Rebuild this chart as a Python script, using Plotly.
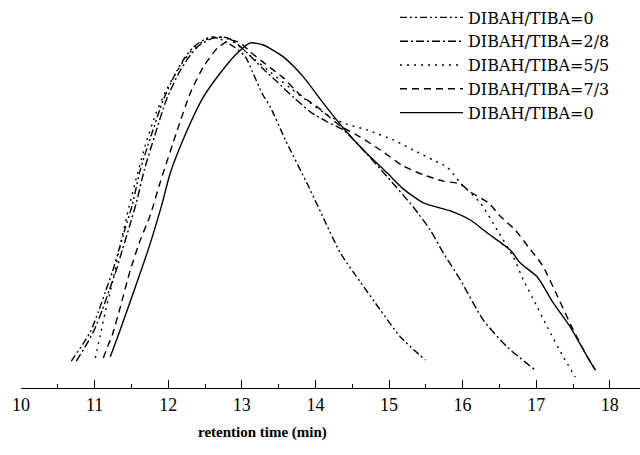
import plotly.graph_objects as go

names = ["DIBAH/TIBA=0", "DIBAH/TIBA=2/8", "DIBAH/TIBA=5/5", "DIBAH/TIBA=7/3", "DIBAH/TIBA=0"]

t1 = [10.683, 10.833, 10.942, 11.050, 11.145, 11.240, 11.322, 11.417, 11.512, 11.620, 11.757, 11.933,
      12.096, 12.205, 12.341, 12.504, 12.613, 12.735, 12.912, 13.050, 13.140, 13.280, 13.387, 13.591,
      13.904, 14.135, 14.338, 14.610, 14.882, 15.154, 15.493]
v1 = [0.077, 0.123, 0.160, 0.217, 0.274, 0.331, 0.389, 0.457, 0.523, 0.623, 0.714, 0.823,
      0.897, 0.937, 0.974, 0.997, 1.003, 0.994, 0.972, 0.946, 0.906, 0.840, 0.803, 0.709,
      0.577, 0.474, 0.386, 0.303, 0.223, 0.146, 0.080]

t2 = [10.751, 10.887, 10.996, 11.105, 11.200, 11.295, 11.376, 11.471, 11.567, 11.675, 11.811, 11.974,
      12.137, 12.273, 12.409, 12.572, 12.735, 12.871, 13.075, 13.279, 13.482, 13.700, 13.931, 14.162,
      14.380, 14.610, 14.977, 15.330, 15.561, 15.738, 15.969, 16.281, 16.607, 16.988]
v2 = [0.077, 0.123, 0.166, 0.223, 0.280, 0.337, 0.394, 0.460, 0.529, 0.623, 0.717, 0.823,
      0.897, 0.943, 0.977, 0.997, 1.003, 0.994, 0.957, 0.914, 0.874, 0.831, 0.789, 0.760,
      0.737, 0.689, 0.603, 0.517, 0.451, 0.386, 0.309, 0.194, 0.117, 0.051]

t3 = [11.010, 11.077, 11.145, 11.240, 11.349, 11.458, 11.567, 11.689, 11.825, 11.988, 12.165, 12.327,
      12.504, 12.667, 12.817, 12.980, 13.184, 13.387, 13.659, 13.931, 14.162, 14.380, 14.704, 15.057,
      15.330, 15.601, 15.791, 15.968, 16.240, 16.471, 16.689, 16.825, 17.015, 17.151, 17.368, 17.531]
v3 = [0.086, 0.151, 0.217, 0.300, 0.409, 0.509, 0.600, 0.694, 0.780, 0.857, 0.920, 0.966,
      0.994, 1.003, 0.997, 0.974, 0.937, 0.903, 0.857, 0.814, 0.780, 0.757, 0.737, 0.709,
      0.680, 0.651, 0.631, 0.586, 0.529, 0.451, 0.374, 0.309, 0.231, 0.174, 0.089, 0.031]

t4 = [11.118, 11.186, 11.240, 11.349, 11.485, 11.621, 11.757, 11.893, 12.124, 12.300, 12.477, 12.667,
      12.844, 12.980, 13.116, 13.319, 13.564, 13.795, 14.026, 14.338, 14.610, 14.882, 15.194, 15.466,
      15.738, 15.969, 16.105, 16.349, 16.512, 16.716, 16.893, 17.083, 17.287, 17.491, 17.695, 17.804]
v4 = [0.086, 0.123, 0.151, 0.231, 0.337, 0.423, 0.494, 0.589, 0.737, 0.843, 0.917, 0.971,
      0.994, 0.986, 0.960, 0.926, 0.886, 0.837, 0.803, 0.749, 0.717, 0.680, 0.634, 0.609,
      0.591, 0.583, 0.560, 0.529, 0.491, 0.451, 0.403, 0.351, 0.263, 0.171, 0.089, 0.051]

t5 = [11.213, 11.322, 11.444, 11.621, 11.757, 11.920, 12.028, 12.259, 12.477, 12.708, 12.939, 13.116,
      13.292, 13.564, 13.836, 14.107, 14.379, 14.651, 14.977, 15.194, 15.466, 15.833, 16.105, 16.336,
      16.648, 16.784, 17.015, 17.232, 17.463, 17.695, 17.804]
v5 = [0.089, 0.151, 0.223, 0.329, 0.414, 0.529, 0.614, 0.737, 0.831, 0.900, 0.957, 0.986,
      0.980, 0.946, 0.889, 0.814, 0.743, 0.680, 0.614, 0.569, 0.529, 0.506, 0.480, 0.443,
      0.394, 0.357, 0.317, 0.243, 0.174, 0.089, 0.051]

tick_vals = [10, 11, 12, 13, 14, 15, 16, 17, 18]
tick_text = ["10", "11", "12", "13", "14", "15", "16", "17", "18"]

series = [(t1, v1), (t2, v2), (t3, v3), (t4, v4), (t5, v5)]
dashes = ["7px,3px,2px,3px,2px,3px", "8px,3px,2px,3px", "2px,5px", "7px,5px", "solid"]

fig = go.Figure()
for (x, y), name, d in zip(series, names, dashes):
    fig.add_trace(go.Scatter(x=x, y=y, mode="lines", name=name,
                             line=dict(color="black", width=1.4, dash=d, shape="spline", smoothing=0.6)))

serif = "Liberation Serif, Times New Roman, serif"
fig.update_layout(
    width=640, height=455,
    margin=dict(l=21, r=0, t=20, b=67),
    paper_bgcolor="white", plot_bgcolor="white",
    font=dict(family=serif, color="black", size=16),
    showlegend=True,
    legend=dict(x=(395 - 21) / 619, y=1.053, xanchor="left", yanchor="top",
                bgcolor="rgba(0,0,0,0)", itemwidth=63,
                font=dict(family="DejaVu Serif, serif", size=16, color="black"),
                tracegroupgap=0),
    xaxis=dict(range=[10, 18.41], tickvals=tick_vals, ticktext=tick_text,
               showline=True, linecolor="black", linewidth=1.2,
               ticks="inside", ticklen=8, tickwidth=1, tickcolor="black",
               minor=dict(dtick=0.5, ticks="inside", ticklen=4, tickcolor="black", tickwidth=1),
               showgrid=False, zeroline=False,
               tickfont=dict(family=serif, size=18, color="black")),
    yaxis=dict(range=[0, 1.0514], visible=False, showgrid=False, zeroline=False),
    annotations=[dict(text="<b>retention time (min)</b>",
                      x=(262 - 21) / 619, xref="paper", y=-(432 - 388) / 368, yref="paper",
                      xanchor="center", yanchor="middle", showarrow=False,
                      font=dict(family=serif, size=15, color="black"))],
)

fig.write_html("out.html")
